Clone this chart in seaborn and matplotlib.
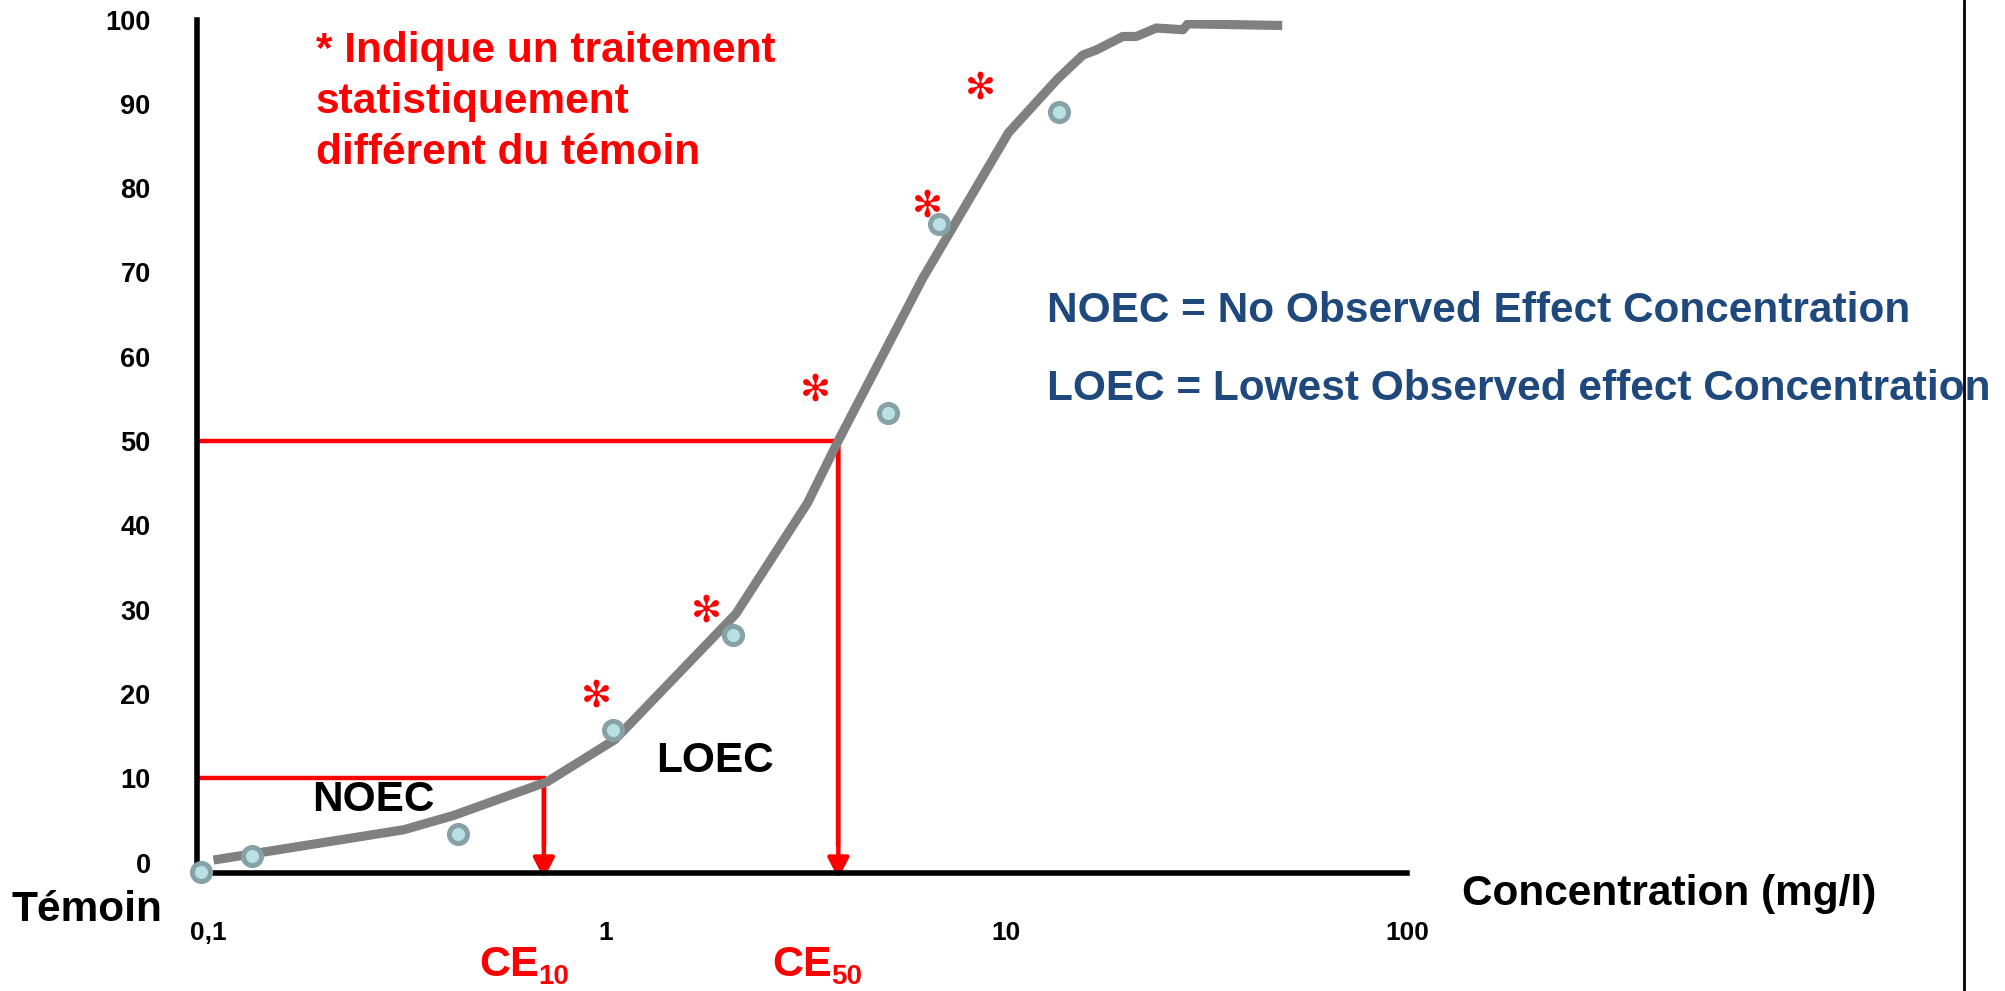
import numpy as np
import pandas as pd
import seaborn as sns
import matplotlib
matplotlib.use("Agg")
import matplotlib.pyplot as plt
from matplotlib.lines import Line2D
from matplotlib.transforms import ScaledTranslation
from matplotlib.ticker import NullLocator, FixedLocator, FixedFormatter

# ---------------- data ----------------
curve_x = [0.1053, 0.3145, 0.4188, 0.7167, 1.057, 2.116, 3.198, 3.808, 6.19, 10.14,
           13.46, 15.54, 16.79, 19.55, 21.12, 23.69, 27.60, 28.41, 48.84]
curve_y = [0.3, 3.9, 5.6, 9.6, 14.6, 29.5, 42.7, 50.0, 69.3, 86.6,
           93.0, 95.8, 96.4, 98.0, 98.0, 99.0, 98.8, 99.5, 99.3]

obs_x = [0.098, 0.1313, 0.4283, 1.047, 2.084, 5.075, 6.79, 13.58]
obs_y = [-1.1, 0.8, 3.4, 15.7, 27.0, 53.3, 75.8, 89.0]

signif_x = [0.948, 1.787, 3.338, 6.33, 8.62]
signif_y = [20.15, 30.2, 56.45, 78.3, 92.2]

ce_levels = [10, 50]
ce_values = [0.7025, 3.813]
ce_names = ["10", "50"]

x_ticks = [0.1, 1, 10, 100]
x_tick_labels = ["0,1", "1", "10", "100"]
y_ticks = [0, 10, 20, 30, 40, 50, 60, 70, 80, 90, 100]
y_tick_labels = [str(v) for v in y_ticks]

# ---------------- style ----------------
sns.set_style("white")
plt.rcParams["font.family"] = ["Liberation Sans", "DejaVu Sans"]
plt.rcParams["font.weight"] = "bold"

W, H = 2005, 991
fig = plt.figure(figsize=(W / 100, H / 100), dpi=100)


def fx(px):
    return px / W


def fy(py):
    return 1 - py / H


ax = fig.add_axes([fx(196.5), fy(872.7), fx(1407) - fx(196.5), fy(19.6) - fy(872.7)])
ax.set_xscale("log")
ax.set_xlim(10 ** -1.02, 100)
ax.set_ylim(-1.2, 100)
x_left = ax.get_xlim()[0]

RED = "#ff0000"
GREY = "#808080"
BLUE = "#1f497d"

# red CE guide lines with arrows
for lvl, ce in zip(ce_levels, ce_values):
    ax.plot([x_left, ce, ce], [lvl, lvl, 2], color=RED, lw=3.2, solid_joinstyle="miter",
            solid_capstyle="butt", clip_on=False, zorder=2)
    ax.annotate("", xy=(ce, -1.9), xytext=(ce, lvl), xycoords="data",
                arrowprops=dict(arrowstyle="-|>,head_length=0.62,head_width=0.32",
                                color=RED, lw=3.2, shrinkA=0, shrinkB=0,
                                mutation_scale=20),
                annotation_clip=False, zorder=2)

# fitted curve
curve_df = pd.DataFrame({"conc": curve_x, "effet": curve_y})
sns.lineplot(data=curve_df, x="conc", y="effet", ax=ax, color=GREY, lw=6.6,
             sort=False, estimator=None, solid_capstyle="butt", zorder=3)

# observations
obs_df = pd.DataFrame({"conc": obs_x, "effet": obs_y})
sns.scatterplot(data=obs_df, x="conc", y="effet", ax=ax, s=170, color="#b9e0e4",
                edgecolor="#87a2a6", linewidth=3.6, zorder=5, clip_on=False)

# significance asterisks
sig_df = pd.DataFrame({"conc": signif_x, "effet": signif_y})
sns.scatterplot(data=sig_df, x="conc", y="effet", ax=ax, marker="$\u273B$",
                s=400, color=RED, linewidth=0, zorder=6)

# axes styling
ax.set_xlabel("")
ax.set_ylabel("")
for side in ["top", "right"]:
    ax.spines[side].set_visible(False)
for side in ["left", "bottom"]:
    ax.spines[side].set_linewidth(4.0)
    ax.spines[side].set_color("black")
    ax.spines[side].set_capstyle("projecting")

ax.xaxis.set_major_locator(FixedLocator(x_ticks))
ax.xaxis.set_major_formatter(FixedFormatter(x_tick_labels))
ax.xaxis.set_minor_locator(NullLocator())
ax.yaxis.set_major_locator(FixedLocator(y_ticks))
ax.yaxis.set_major_formatter(FixedFormatter(y_tick_labels))

ax.tick_params(axis="y", direction="out", length=13, width=3.6, pad=20,
               labelsize=19.5, colors="black")
ax.tick_params(axis="x", direction="out", length=17, width=4.6, pad=18,
               labelsize=19, colors="black")
for lab in ax.get_xticklabels() + ax.get_yticklabels():
    lab.set_fontweight("bold")
ax.yaxis.get_major_ticks()[0].tick1line.set_visible(False)
ax.xaxis.get_major_ticks()[0].tick1line.set_visible(False)
fig.canvas.draw()
first_lab = ax.get_xticklabels()[0]
first_lab.set_transform(first_lab.get_transform() + ScaledTranslation(4 / 100, 0, fig.dpi_scale_trans))

# ---------------- texts ----------------
FS = 30.5
txt = dict(fontsize=FS, fontweight="bold", va="baseline", ha="left")
fig.text(fx(316), fy(62), "* Indique un traitement", color=RED, **txt)
fig.text(fx(316), fy(113), "statistiquement", color=RED, **txt)
fig.text(fx(316), fy(164), "différent du témoin", color=RED, **txt)

fig.text(fx(1047), fy(321.7), "NOEC = No Observed Effect Concentration", color=BLUE, **txt)
fig.text(fx(1047), fy(400), "LOEC = Lowest Observed effect Concentration", color=BLUE, **txt)

fig.text(fx(312), fy(810.7), "NOEC", color="black", **txt)
fig.text(fx(656), fy(771.7), "LOEC", color="black", **txt)
fig.text(fx(12), fy(920.7), "Témoin", color="black", **txt)
fig.text(fx(1462), fy(905), "Concentration (mg/l)", color="black", **txt)

# CE labels
for cx, sub in zip([479, 772], ce_names):
    fig.text(fx(cx), fy(976), "CE", color=RED, fontsize=31, fontweight="bold",
             va="baseline", ha="left")
    fig.text(fx(cx + 59), fy(984), sub, color=RED, fontsize=20, fontweight="bold",
             va="baseline", ha="left")

# right border line
fig.add_artist(Line2D([fx(1963.5), fx(1963.5)], [0, 1], color="black", lw=2.0))

fig.savefig("out.png", dpi=100)
